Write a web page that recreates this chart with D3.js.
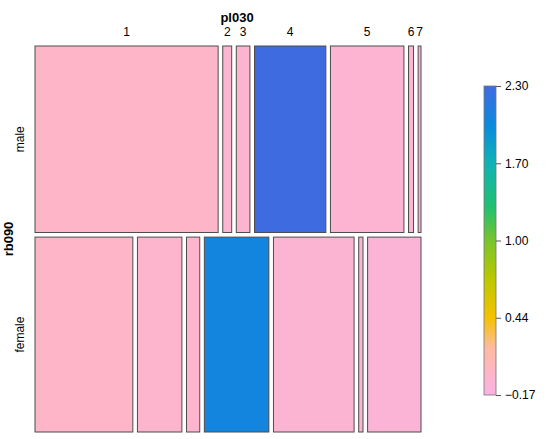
<!DOCTYPE html>
<html><head><meta charset="utf-8">
<script src="https://cdn.jsdelivr.net/npm/d3@7"></script>
<style>body{margin:0;background:#fff}svg{display:block;font-family:"Liberation Sans",Arial,sans-serif}</style>
</head><body><svg id="c" width="548" height="439"></svg>
<script>
// ---- data ----
const pl030 = ["1","2","3","4","5","6","7"];
const rb090 = ["male","female"];
const rowShare = [48.9, 51.1];                       // % of observations per rb090
const maleShare   = [51.1, 2.5, 3.8, 19.9, 20.5, 1.4, 0.8];   // % within male
const femaleShare = [27.3, 12.4, 3.7, 18.0, 22.5, 1.2, 14.9]; // % within female
const maleResid   = [0.00, -0.05, -0.05, 2.30, -0.06, -0.05, -0.10];
const femaleResid = [0.00, -0.04, -0.03, 2.05, -0.07, -0.05, -0.09];
const legendTicks = [-0.17, 0.44, 1.00, 1.70, 2.30];
const colorStops  = [-0.17, 0.0, 0.2, 0.44, 0.72, 1.0, 1.3, 1.7, 2.0, 2.3];
const colorValues = ["#f7b3e3","#ffb5c8","#fdbaa2","#f5c200","#bcc800","#78c42c","#22c070","#10b2b5","#0a8ade","#3f6be0"];

// ---- layout ----
const svg = d3.select("#c");
const X0 = 35, X1 = 421, Y0 = 46, Y1 = 432, gap = 4.6;
const color = d3.scaleLinear().domain(colorStops).range(colorValues).interpolate(d3.interpolateRgb).clamp(true);

const rowScale = d3.scaleLinear().domain([0, 100]).range([0, (Y1 - Y0) - gap * (rb090.length - 1)]);
const colScale = d3.scaleLinear().domain([0, 100]).range([0, (X1 - X0) - gap * (pl030.length - 1)]);

const shares = [maleShare, femaleShare];
const resid = [maleResid, femaleResid];
let yCum = 0;
const cells = [];
const rows = [];
rb090.forEach((r, ri) => {
  const y = Y0 + rowScale(yCum) + ri * gap;
  const h = rowScale(rowShare[ri]);
  rows.push({r, y, h});
  let xCum = 0;
  pl030.forEach((c, ci) => {
    const x = X0 + colScale(xCum) + ci * gap;
    const w = colScale(shares[ri][ci]);
    cells.push({r, c, ri, ci, x, y, w, h, v: resid[ri][ci]});
    xCum += shares[ri][ci];
  });
  yCum += rowShare[ri];
});

svg.append("g").selectAll("rect").data(cells).join("rect")
  .attr("x", d => d.x).attr("y", d => d.y)
  .attr("width", d => d.w).attr("height", d => d.h)
  .attr("fill", d => color(d.v))
  .attr("stroke", "#4d4d4d").attr("stroke-width", 1);

// column labels (top row)
svg.append("g").selectAll("text").data(cells.filter(d => d.ri === 0)).join("text")
  .attr("x", d => d.x + d.w / 2).attr("y", 35.5)
  .attr("text-anchor", "middle").attr("font-size", 12).text(d => d.c);
svg.append("text").attr("x", 237).attr("y", 21.5).attr("text-anchor", "middle")
  .attr("font-size", 13).attr("font-weight", "bold").text("pl030");

// row labels
svg.append("g").selectAll("text").data(rows).join("text")
  .attr("transform", d => `translate(24,${d.y + d.h / 2}) rotate(-90)`)
  .attr("text-anchor", "middle").attr("font-size", 12).text(d => d.r);
svg.append("text").attr("transform", `translate(12.5,${(Y0 + Y1) / 2}) rotate(-90)`)
  .attr("text-anchor", "middle").attr("font-size", 13).attr("font-weight", "bold").text("rb090");

// ---- legend ----
const LX = 484, LW = 12, LT = 86, LB = 395;
const ly = d3.scaleLinear().domain(legendTicks).range(legendTicks.map((t, i) => LB - i * (LB - LT) / (legendTicks.length - 1)));
const defs = svg.append("defs");
const grad = defs.append("linearGradient").attr("id", "lg").attr("x1", 0).attr("y1", 1).attr("x2", 0).attr("y2", 0);
const nStops = 60;
d3.range(nStops + 1).forEach(i => {
  const yy = LB - i * (LB - LT) / nStops;
  const v = ly.invert(yy);
  grad.append("stop").attr("offset", i / nStops).attr("stop-color", color(v));
});
svg.append("rect").attr("x", LX).attr("y", LT).attr("width", LW).attr("height", LB - LT)
  .attr("fill", "url(#lg)").attr("stroke", "#777").attr("stroke-width", 0.8);
const axis = d3.axisRight(ly).tickValues(legendTicks).tickSize(5).tickPadding(4)
  .tickFormat(d => d3.format(".2f")(d).replace("-", "\u2212"));
const ag = svg.append("g").attr("transform", `translate(${LX + LW},0)`).call(axis);
ag.select(".domain").remove();
ag.selectAll("line").attr("stroke", "#555");
ag.selectAll("text").attr("font-size", 12).attr("fill", "#000").attr("font-family", "Liberation Sans, Arial, sans-serif");
</script></body></html>
